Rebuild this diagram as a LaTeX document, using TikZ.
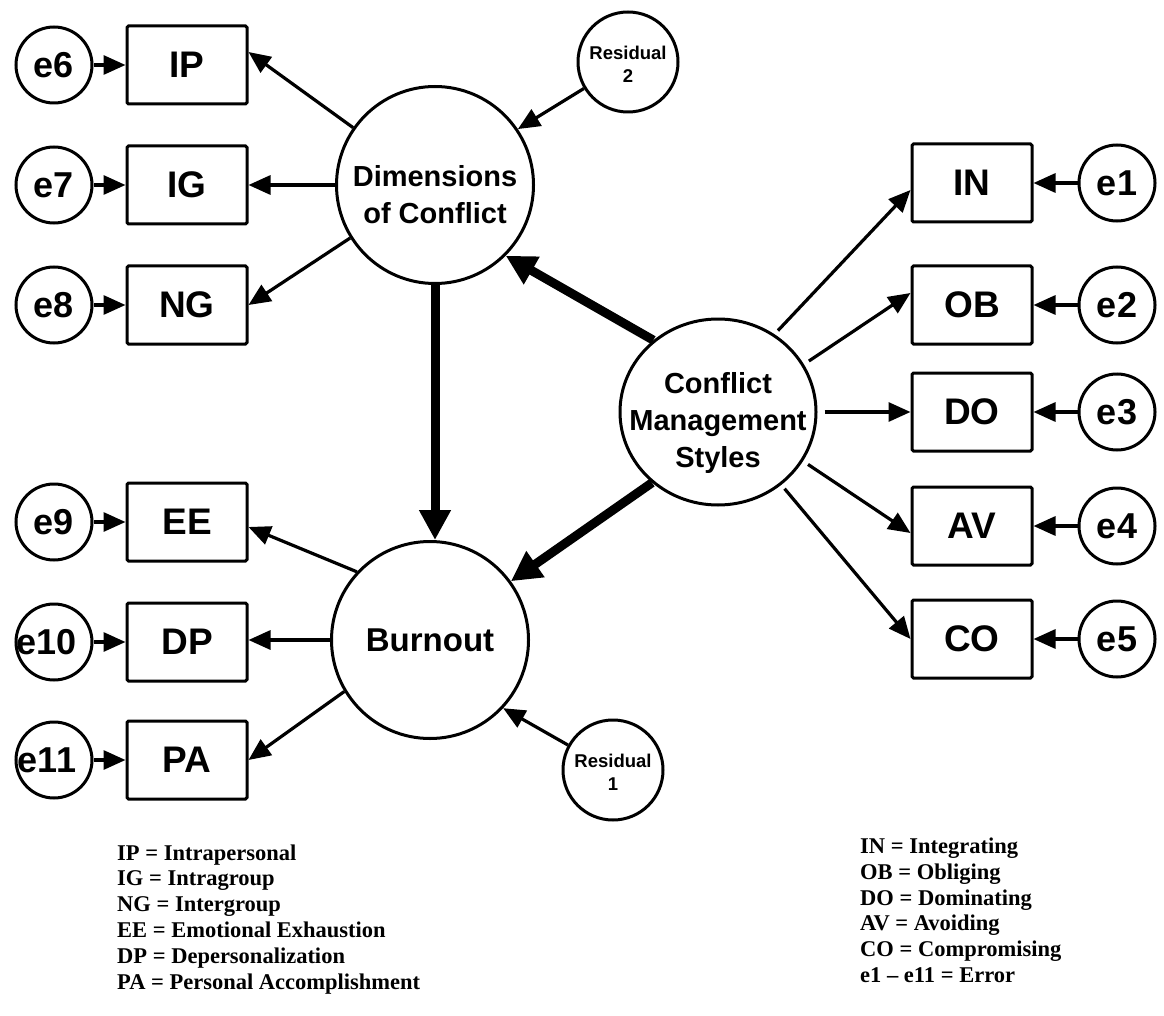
\documentclass[tikz,border=0pt]{standalone}
\usepackage{fontspec}
\setmainfont{Liberation Serif}
\newfontfamily\labelfont{Liberation Sans}
\usetikzlibrary{arrows.meta,shapes.geometric}
% centred text block, lowered inside its node without changing the node size
\newcommand{\lowered}[2]{\raisebox{-#1}[\height][\depth]{\begin{tabular}{@{}c@{}}#2\end{tabular}}}
\begin{document}
\begin{tikzpicture}[x=1pt,y=-1pt,
  every node/.style={inner sep=0pt},
  obs/.style={draw,line width=3pt,rounded corners=1.5pt,minimum width=120pt,minimum height=78pt,
    font=\labelfont\bfseries\fontsize{37}{40}\selectfont},
  err/.style={draw,circle,line width=3pt,minimum size=76pt,
    font=\labelfont\bfseries\fontsize{36}{40}\selectfont},
  latent/.style={draw,circle,line width=3pt,minimum size=197pt,inner sep=-20pt,
    font=\labelfont\bfseries\fontsize{29}{37}\selectfont},
  resid/.style={draw,circle,line width=3pt,minimum size=100pt,inner sep=-6pt,
    font=\labelfont\bfseries\fontsize{18.5}{23}\selectfont},
  loadarrow/.style={line width=3.2pt,-{Triangle[length=22pt,width=19pt]}},
  patharrow/.style={line width=9pt,-{Triangle[length=30pt,width=30pt]}},
  legend/.style={anchor=base west,font=\bfseries\fontsize{22.5}{26}\selectfont},
]
\useasboundingbox (0,0) rectangle (1164,1016);

% latent variables
\node[latent] (dim) at (435,185) {\lowered{13pt}{Dimensions\\of Conflict}};
\node[latent] (burn) at (430,640) {\fontsize{33}{37}\selectfont Burnout};
\node[draw,ellipse,line width=3pt,minimum width=196pt,minimum height=186pt,
      inner xsep=-30pt,inner ysep=-25pt,
      font=\labelfont\bfseries\fontsize{29}{37}\selectfont] (cms) at (718,412)
      {\lowered{11pt}{Conflict\\Management\\Styles}};

% residuals
\node[resid] (r2) at (628,62) {\lowered{4pt}{Residual\\2}};
\node[resid] (r1) at (613,770) {\lowered{4pt}{Residual\\1}};

% indicators, left
\node[obs] (ip) at (187,65) {IP};
\node[obs] (ig) at (187,185) {IG};
\node[obs] (ng) at (187,305) {NG};
\node[obs] (ee) at (187,522) {EE};
\node[obs] (dp) at (187,642) {DP};
\node[obs] (pa) at (187,760) {PA};

% indicators, right
\node[obs] (in) at (972,183) {IN};
\node[obs] (ob) at (972,305) {OB};
\node[obs] (do) at (972,412) {DO};
\node[obs] (av) at (972,526) {AV};
\node[obs] (co) at (972,639) {CO};

% error terms
\node[err] (e6) at (54,65) {e6};
\node[err] (e7) at (54,185) {e7};
\node[err] (e8) at (54,305) {e8};
\node[err] (e9) at (54,522) {e9};
\node[err] (e10) at (54,642) {\kern-14pt e10};
\node[err] (e11) at (54,760) {\kern-14pt e11};
\node[err] (e1) at (1117,183) {e1};
\node[err] (e2) at (1117,305) {e2};
\node[err] (e3) at (1117,412) {e3};
\node[err] (e4) at (1117,526) {e4};
\node[err] (e5) at (1117,639) {e5};

% error arrows
\foreach \e/\b in {e6/ip,e7/ig,e8/ng,e9/ee,e10/dp,e11/pa}
  \draw[loadarrow] (\e.east) -- (\b.west);
\foreach \e/\b in {e1/in,e2/ob,e3/do,e4/av,e5/co}
  \draw[loadarrow] (\e.west) -- (\b.east);

% loadings of Dimensions of Conflict
\draw[loadarrow] (dim.145) -- ([yshift=13pt]ip.east);
\draw[loadarrow] (dim.west) -- (ig.east);
\draw[loadarrow] (dim.212.6) -- (ng.east);

% loadings of Burnout
\draw[loadarrow] (burn.137) -- ([yshift=-5pt]ee.east);
\draw[loadarrow] (burn.west) -- (burn.west -| dp.east);
\draw[loadarrow] (burn.211) -- (pa.east);

% loadings of Conflict Management Styles
\draw[loadarrow,shorten <=5pt] (cms.54) -- ([yshift=-7pt]in.west);
\draw[loadarrow,shorten <=6pt] (cms.29) -- ([yshift=12pt]ob.west);
\draw[loadarrow,shorten <=7pt] (cms.east) -- (do.west);
\draw[loadarrow,shorten <=6pt] (cms.-30) -- ([yshift=-7pt]av.west);
\draw[loadarrow,shorten <=5pt] (cms.-49) -- (co.west);

% residual arrows
\draw[loadarrow] (r2.211) -- (dim.34);
\draw[loadarrow] (r1.151) -- (burn.-43);

% structural paths
\draw[patharrow] (cms.132) -- (dim.-45);
\draw[patharrow] (cms.227) -- (burn.36);
\draw[patharrow] (dim.south) -- (dim.south |- burn.north);

% legends
\node[legend] (l1) at (117,860) {IP = Intrapersonal};
\node[legend] (l2) at (117,885.8) {IG = Intragroup};
\node[legend] (l3) at (117,911.6) {NG = Intergroup};
\node[legend] (l4) at (117,937.4) {EE = Emotional Exhaustion};
\node[legend] (l5) at (117,963.2) {DP = Depersonalization};
\node[legend] (l6) at (117,989) {PA = Personal Accomplishment};

\node[legend] (r1l) at (860,853.5) {IN = Integrating};
\node[legend] (r2l) at (860,879.3) {OB = Obliging};
\node[legend] (r3l) at (860,905.1) {DO = Dominating};
\node[legend] (r4l) at (860,930.9) {AV = Avoiding};
\node[legend] (r5l) at (860,956.7) {CO = Compromising};
\node[legend] (r6l) at (860,982.5) {e1 – e11 = Error};
\end{tikzpicture}
\end{document}
